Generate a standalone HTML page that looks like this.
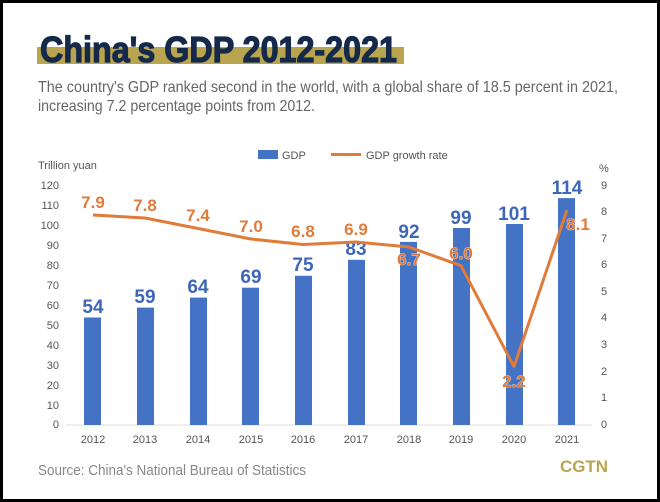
<!DOCTYPE html>
<html><head><meta charset="utf-8"><style>
html,body{margin:0;padding:0;background:#000;}
</style></head><body>
<svg width="660" height="502" xmlns="http://www.w3.org/2000/svg" style="display:block">
<rect x="0" y="0" width="660" height="502" fill="#000"/>
<rect x="3" y="3" width="654" height="496" fill="#fff"/>
<rect x="37" y="47" width="367" height="17" fill="#b9a550"/>
<text x="40" y="62" font-family="Liberation Sans Narrow, Liberation Sans, sans-serif" font-weight="bold" font-size="36" fill="#15294b" stroke="#15294b" stroke-width="1.2" textLength="357" lengthAdjust="spacingAndGlyphs">China's GDP 2012-2021</text>
<g font-family="Liberation Sans Narrow, Liberation Sans, sans-serif" fill="#666" font-size="16">
<text x="38" y="92" textLength="580" lengthAdjust="spacingAndGlyphs">The country's GDP ranked second in the world, with a global share of 18.5 percent in 2021,</text>
<text x="38" y="111" textLength="277" lengthAdjust="spacingAndGlyphs">increasing 7.2 percentage points from 2012.</text>
</g>
<g font-family="Liberation Sans Narrow, Liberation Sans, sans-serif" fill="#555" font-size="11">
<rect x="258" y="150" width="20" height="9" fill="#4472c4"/>
<text x="282" y="159">GDP</text>
<rect x="331" y="153" width="30" height="3" fill="#e07b39"/>
<text x="366" y="159">GDP growth rate</text>
<text x="38" y="169">Trillion yuan</text>
<text x="599" y="172">%</text>
</g>
<line x1="66" y1="425" x2="592" y2="425" stroke="#ddd" stroke-width="1"/>
<g font-family="Liberation Sans Narrow, Liberation Sans, sans-serif" fill="#555" font-size="11" text-anchor="end">
<text x="59" y="189">120</text><text x="59" y="209">110</text><text x="59" y="229">100</text>
<text x="59" y="249">90</text><text x="59" y="269">80</text><text x="59" y="289">70</text>
<text x="59" y="309">60</text><text x="59" y="329">50</text><text x="59" y="349">40</text>
<text x="59" y="369">30</text><text x="59" y="389">20</text><text x="59" y="409">10</text>
<text x="59" y="428">0</text>
</g>
<g font-family="Liberation Sans Narrow, Liberation Sans, sans-serif" fill="#555" font-size="11" text-anchor="middle">
<text x="604" y="189">9</text><text x="604" y="215">8</text><text x="604" y="242">7</text>
<text x="604" y="268">6</text><text x="604" y="295">5</text><text x="604" y="321">4</text>
<text x="604" y="348">3</text><text x="604" y="375">2</text><text x="604" y="401">1</text>
<text x="604" y="428">0</text>
<text x="93" y="443">2012</text><text x="145" y="443">2013</text><text x="198" y="443">2014</text>
<text x="251" y="443">2015</text><text x="303" y="443">2016</text><text x="356" y="443">2017</text>
<text x="409" y="443">2018</text><text x="461" y="443">2019</text><text x="514" y="443">2020</text>
<text x="567" y="443">2021</text>
</g>
<g fill="#4472c4">
<rect x="84" y="317.5" width="17" height="107.5"/>
<rect x="137" y="307.6" width="17" height="117.4"/>
<rect x="190" y="297.6" width="17" height="127.4"/>
<rect x="242" y="287.7" width="17" height="137.3"/>
<rect x="295" y="275.8" width="17" height="149.2"/>
<rect x="348" y="259.8" width="17" height="165.2"/>
<rect x="400" y="241.9" width="17" height="183.1"/>
<rect x="453" y="228" width="17" height="197"/>
<rect x="506" y="224" width="17" height="201"/>
<rect x="558" y="198.1" width="17" height="226.9"/>
</g>
<g font-family="Liberation Sans Narrow, Liberation Sans, sans-serif" font-weight="bold" fill="#3e66b8" font-size="19" text-anchor="middle">
<text x="93" y="313">54</text><text x="145" y="303">59</text><text x="198" y="293">64</text>
<text x="251" y="283">69</text><text x="303" y="271">75</text><text x="356" y="255">83</text>
<text x="409" y="238">92</text><text x="461" y="224">99</text><text x="514" y="220">101</text>
<text x="567" y="194">114</text>
</g>
<polyline fill="none" stroke="#e07b39" stroke-width="3" stroke-linejoin="round" points="93,215 145,218 198,228.5 251,239 303,244.5 356,242 409,247 461,265.7 514,366.6 567,210"/>
<g font-family="Liberation Sans Narrow, Liberation Sans, sans-serif" font-weight="bold" fill="#e07b39" font-size="17" text-anchor="middle" stroke="#fff" stroke-width="0.6" paint-order="stroke">
<text x="93" y="208">7.9</text><text x="145" y="211">7.8</text><text x="198" y="221">7.4</text>
<text x="251" y="232">7.0</text><text x="303" y="237">6.8</text><text x="356" y="235">6.9</text>
<text x="409" y="265">6.7</text><text x="461" y="259">6.0</text><text x="514" y="387">2.2</text>
<text x="578" y="230">8.1</text>
</g>
<text x="38" y="475" font-family="Liberation Sans Narrow, Liberation Sans, sans-serif" fill="#888" font-size="15" textLength="268" lengthAdjust="spacingAndGlyphs">Source: China's National Bureau of Statistics</text>
<text x="560" y="472" font-family="Liberation Sans, sans-serif" font-weight="bold" fill="#b9a550" font-size="17" textLength="48" lengthAdjust="spacingAndGlyphs">CGTN</text>
</svg>
</body></html>
